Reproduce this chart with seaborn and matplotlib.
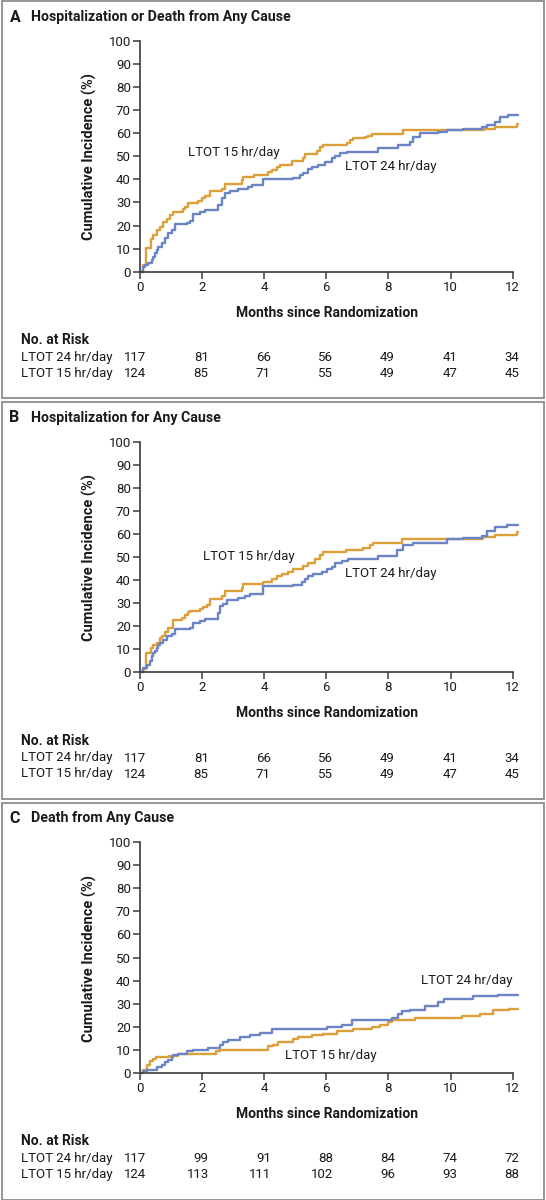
import matplotlib
matplotlib.use('Agg')
import matplotlib.pyplot as plt
import matplotlib.transforms as mtransforms
from matplotlib.patches import Rectangle
import pandas as pd
import seaborn as sns

W, H = 546, 1200

arm24 = 'LTOT 24 hr/day'
arm15 = 'LTOT 15 hr/day'

# A: hospitalization or death (step start month, cumulative %)
a24_t = [0, 0.11, 0.16, 0.27, 0.38, 0.43, 0.48, 0.54, 0.59, 0.70, 0.80, 0.91, 1.02, 1.13, 1.50, 1.61,
         1.72, 1.93, 2.09, 2.52, 2.63, 2.74, 2.90, 3.17, 3.49, 3.60, 3.97, 4.94, 5.15, 5.26, 5.42, 5.53,
         5.74, 5.96, 6.17, 6.28, 6.44, 6.65, 7.67, 8.32, 8.69, 8.80, 9.02, 9.61, 9.87, 10.41, 11.00,
         11.16, 11.43, 11.59, 11.86, 12.16]
a24_y = [0, 1.9, 2.9, 3.6, 5.0, 6.5, 8.0, 9.4, 10.8, 12.6, 14.5, 16.6, 18.0, 20.5, 21.0, 22.0,
         24.9, 26.0, 26.7, 28.9, 31.8, 34.0, 35.1, 35.7, 36.8, 37.6, 40.0, 40.8, 41.9, 42.6, 44.4, 45.5,
         46.2, 47.7, 49.1, 50.1, 51.3, 52.0, 53.5, 54.9, 56.4, 58.5, 60.0, 60.7, 61.4, 61.7, 62.6,
         63.6, 65.0, 66.9, 68.0, 68.0]
a15_t = [0, 0.11, 0.19, 0.34, 0.43, 0.54, 0.64, 0.75, 0.86, 0.97, 1.05, 1.40, 1.45, 1.56, 1.88, 1.99,
         2.09, 2.25, 2.63, 2.74, 3.27, 3.33, 3.67, 4.13, 4.24, 4.40, 4.51, 4.88, 5.26, 5.31, 5.71, 5.80,
         5.90, 6.65, 6.76, 6.87, 7.24, 7.35, 7.46, 8.46, 11.06, 11.43, 12.13, 12.16]
a15_y = [0, 3.0, 10.4, 14.2, 16.0, 18.0, 19.5, 21.7, 23.0, 24.6, 26.0, 27.0, 28.0, 29.8, 30.6, 31.8,
         32.8, 34.8, 36.0, 37.9, 39.7, 41.0, 42.0, 43.0, 44.0, 45.5, 46.2, 48.0, 49.4, 51.0, 52.5, 54.0,
         55.0, 55.6, 57.0, 58.0, 58.2, 58.8, 59.7, 61.4, 61.8, 62.9, 63.9, 63.9]

# B: hospitalization
b24_t = [0, 0.11, 0.21, 0.32, 0.38, 0.43, 0.48, 0.54, 0.59, 0.64, 0.75, 0.86, 1.02, 1.13, 1.61, 1.72,
         1.93, 2.09, 2.52, 2.58, 2.68, 2.79, 3.17, 3.38, 3.54, 3.97, 4.94, 5.21, 5.31, 5.42, 5.58, 5.85,
         6.01, 6.17, 6.28, 6.49, 6.71, 7.67, 8.26, 8.48, 8.80, 9.87, 10.41, 11.00, 11.16, 11.43, 11.81,
         12.16]
b24_y = [0, 1.9, 3.3, 4.8, 6.9, 8.4, 9.1, 10.5, 12.0, 12.7, 14.1, 15.9, 16.7, 18.8, 19.2, 21.4,
         22.1, 23.1, 25.7, 28.6, 29.7, 31.2, 32.2, 32.9, 34.0, 37.5, 38.0, 39.0, 40.4, 41.6, 42.7, 43.7,
         44.7, 45.9, 47.3, 48.5, 49.0, 50.6, 53.2, 55.3, 56.1, 57.8, 58.4, 59.3, 61.1, 62.9, 64.0,
         64.0]
b15_t = [0, 0.11, 0.19, 0.34, 0.41, 0.54, 0.64, 0.70, 0.80, 0.91, 1.05, 1.34, 1.45, 1.56, 1.61, 1.93,
         2.04, 2.15, 2.25, 2.63, 2.74, 3.27, 3.33, 3.97, 4.24, 4.40, 4.56, 4.78, 4.94, 5.26, 5.42, 5.63,
         5.80, 5.90, 6.62, 7.19, 7.41, 7.51, 8.45, 11.05, 11.43, 12.13, 12.16]
b15_y = [0, 1.4, 8.4, 10.5, 12.0, 12.7, 14.9, 15.9, 17.3, 19.2, 22.5, 23.5, 25.0, 26.0, 26.8, 27.4,
         28.3, 29.3, 31.7, 33.2, 35.1, 36.8, 38.5, 39.0, 40.5, 41.6, 42.7, 43.7, 44.7, 46.2, 47.6, 49.1,
         50.9, 52.0, 53.2, 54.0, 55.3, 56.1, 57.8, 58.7, 59.7, 60.8, 60.8]

# C: death
c24_t = [0, 0.11, 0.21, 0.56, 0.70, 0.80, 0.91, 1.02, 1.07, 1.23, 1.50, 1.72, 2.20, 2.58, 2.68, 2.84,
         3.22, 3.54, 3.86, 4.24, 6.01, 6.49, 6.82, 8.10, 8.32, 8.45, 8.69, 9.18, 9.60, 9.80, 10.73,
         11.54, 12.16]
c24_y = [0, 0.7, 1.4, 2.6, 3.6, 4.6, 5.8, 6.8, 7.6, 8.4, 9.4, 10.1, 10.8, 12.3, 13.3, 14.4,
         15.6, 16.6, 17.3, 19.0, 19.9, 20.9, 23.0, 23.8, 25.4, 26.7, 27.4, 29.1, 30.6, 32.0, 33.2,
         33.9, 33.9]
c15_t = [0, 0.11, 0.21, 0.32, 0.43, 0.52, 0.94, 1.23, 2.45, 2.58, 4.13, 4.29, 4.45, 4.92, 5.10, 5.53,
         5.90, 6.33, 6.87, 7.46, 7.72, 7.99, 8.10, 8.86, 10.36, 10.96, 11.38, 11.87, 12.16]
c15_y = [0, 1.4, 3.6, 5.0, 6.0, 6.8, 7.5, 8.0, 9.4, 9.9, 11.5, 12.3, 13.3, 14.7, 15.6, 16.6,
         17.0, 18.0, 19.0, 19.9, 20.9, 21.9, 23.1, 23.6, 24.5, 25.7, 27.1, 27.8, 27.8]

risk_months = [0, 2, 4, 6, 8, 10, 12]
risk_a24 = [117, 81, 66, 56, 49, 41, 34]
risk_a15 = [124, 85, 71, 55, 49, 47, 45]
risk_b24 = [117, 81, 66, 56, 49, 41, 34]
risk_b15 = [124, 85, 71, 55, 49, 47, 45]
risk_c24 = [117, 99, 91, 88, 84, 74, 72]
risk_c15 = [124, 113, 111, 102, 96, 93, 88]

panels = [
    dict(letter='A', title='Hospitalization or Death from Any Cause', oy=0,
         d24=(a24_t, a24_y), d15=(a15_t, a15_y), r24=risk_a24, r15=risk_a15,
         lab15=(1.55, 51.6), lab24=(6.6, 45.8)),
    dict(letter='B', title='Hospitalization for Any Cause', oy=400.7,
         d24=(b24_t, b24_y), d15=(b15_t, b15_y), r24=risk_b24, r15=risk_b15,
         lab15=(2.03, 50.2), lab24=(6.6, 42.7)),
    dict(letter='C', title='Death from Any Cause', oy=801.2,
         d24=(c24_t, c24_y), d15=(c15_t, c15_y), r24=risk_c24, r15=risk_c15,
         lab15=(4.67, 7.5), lab24=(9.05, 40.0)),
]

sns.set_style('ticks')
plt.rcParams['font.family'] = ['Roboto', 'DejaVu Sans']

BLUE = '#6b84c6'
ORANGE = '#dd9f3a'
INK = '#1a1a1a'
AXC = '#3a3a3a'
FS = 9.5


def px(x, y):
    return x / W, 1 - y / H


fig = plt.figure(figsize=(W / 100, H / 100), dpi=100)

for p in panels:
    oy = p['oy']
    fig.add_artist(Rectangle(px(1.5, oy + 398.3), 542 / W, 396.8 / H, transform=fig.transFigure,
                             fill=False, edgecolor='#8c8c8c', lw=1.3))

    ax = fig.add_axes([140 / W, 1 - (oy + 271.7) / H, 372.7 / W, 230.7 / H])
    df = pd.concat([
        pd.DataFrame({'month': p['d15'][0], 'pct': p['d15'][1], 'arm': arm15}),
        pd.DataFrame({'month': p['d24'][0], 'pct': p['d24'][1], 'arm': arm24}),
    ], ignore_index=True)
    sns.lineplot(data=df, x='month', y='pct', hue='arm', hue_order=[arm15, arm24],
                 palette={arm15: ORANGE, arm24: BLUE}, drawstyle='steps-post',
                 estimator=None, sort=False, legend=False, lw=1.7, ax=ax)
    for line in ax.lines:
        line.set_clip_on(False)

    ax.set_xlim(0, 12)
    ax.set_ylim(0, 100)
    ax.set_xticks(range(0, 13, 2))
    ax.set_yticks(range(0, 101, 10))
    ax.set_xlabel('')
    ax.set_ylabel('')
    sns.despine(ax=ax)
    for s in ['left', 'bottom']:
        ax.spines[s].set_color(AXC)
        ax.spines[s].set_linewidth(1.2)
    ax.tick_params(direction='out', length=5, width=1.1, color=AXC, labelcolor=INK,
                   labelsize=FS, pad=1.5)
    ax.set_facecolor('none')

    ax.text(*p['lab15'], arm15, fontsize=FS, color=INK, va='center', ha='left')
    ax.text(*p['lab24'], arm24, fontsize=FS, color=INK, va='center', ha='left')

    fig.text(*px(9.5, oy + 17), p['letter'], fontsize=11.5, fontweight='bold', color=INK, va='center')
    fig.text(*px(31, oy + 17), p['title'], fontsize=10.2, fontweight='bold', color=INK, va='center')
    fig.text(*px(89, oy + 157), 'Cumulative Incidence (%)', rotation=90, fontsize=10.5,
             fontweight='bold', color=INK, ha='center', va='center')
    fig.text(*px(326.5, oy + 312.7), 'Months since Randomization', fontsize=10,
             fontweight='bold', color=INK, ha='center', va='center')
    fig.text(*px(21, oy + 340), 'No. at Risk', fontsize=10, fontweight='bold', color=INK, va='center')

    tr = mtransforms.blended_transform_factory(ax.transData, fig.transFigure)
    for name, vals, ry in [(arm24, p['r24'], oy + 357.3), (arm15, p['r15'], oy + 373.3)]:
        fig.text(*px(21, ry), name, fontsize=FS, color=INK, va='center')
        for m, v in zip(risk_months, vals):
            ax.text(m + 0.21, 1 - ry / H, str(v), transform=tr, fontsize=FS, color=INK,
                    ha='right', va='center')

fig.savefig('out.png', dpi=100)
